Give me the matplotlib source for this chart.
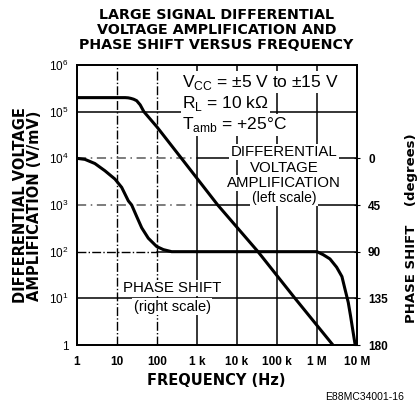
import matplotlib
matplotlib.use("Agg")
import matplotlib.pyplot as plt

plt.rcParams['font.family'] = ['Liberation Sans', 'DejaVu Sans']
plt.rcParams['mathtext.fontset'] = 'custom'
plt.rcParams['mathtext.rm'] = 'Liberation Sans'
plt.rcParams['mathtext.bf'] = 'Liberation Sans:bold'

# gain curve (left scale, V/mV)
gain_freq = [1, 16, 19, 22, 26, 31, 38, 47, 100, 391, 3.3e3, 33.5e3, 282e3, 2.5e6]
gain_vals = [2e5, 2e5, 1.98e5, 1.93e5, 1.85e5, 1.72e5, 1.4e5, 1e5, 4.7e4, 1.05e4,
             1e3, 100, 10, 1]

# phase curve (right scale, degrees)
phase_freq = [1, 1.58, 2.8, 5.0, 8.9, 13.1, 19.2, 23.3, 31, 41.5, 60.6, 98, 144, 232,
              1e6, 1.44e6, 2.11e6, 3.1e6, 4.2e6, 5.0e6, 6.05e6, 6.9e6, 7.8e6, 9e6]
phase_deg = [0, 1, 5, 12, 20, 28, 41, 45, 56, 67, 77, 85, 88, 90,
             90, 93, 97, 105, 114, 126, 139, 152, 165, 180]

x_ticks = [1, 10, 100, 1e3, 1e4, 1e5, 1e6, 1e7]
x_labels = ['1', '10', '100', '1 k', '10 k', '100 k', '1 M', '10 M']
y_ticks = [1, 10, 100, 1e3, 1e4, 1e5, 1e6]
y_labels = ['1', r'$10^1$', r'$10^2$', r'$10^3$', r'$10^4$', r'$10^5$', r'$10^6$']
ph_ticks = [0, 45, 90, 135, 180]

fig = plt.figure(figsize=(4.2, 4.03), dpi=100)
ax = fig.add_axes([0.1833, 0.1439, 0.6667, 0.6948])
ax.set_xscale('log')
ax.set_yscale('log')
ax.set_xlim(1, 1e7)
ax.set_ylim(1, 1e6)

# grid: dash-dot on the left (low freq) part, solid on the right
split = 3 / 7  # 1 kHz in axes fraction
for xv in [10, 100]:
    ax.axvline(xv, color='black', lw=1.0, ls='-.', zorder=1)
for xv in [1e3, 1e4, 1e5, 1e6]:
    ax.axvline(xv, color='black', lw=1.1, zorder=1)
for yv in [1e3, 1e4]:
    ax.axhline(yv, xmax=split, color='0.35', lw=1.1, ls=(0, (6, 3, 1, 3)), zorder=1)
    ax.axhline(yv, xmin=split, color='black', lw=1.1, zorder=1)
ax.axhline(100, xmax=2 / 7, color='black', lw=1.0, ls='-.', zorder=1)
ax.axhline(100, xmin=2 / 7, color='black', lw=1.1, zorder=1)
for yv in [10, 1e5]:
    ax.axhline(yv, color='black', lw=1.1, zorder=1)

ax.plot(gain_freq, gain_vals, color='black', lw=2.2, zorder=3)

ax2 = ax.twinx()
ax2.set_ylim(180, -90)
ax2.plot(phase_freq, phase_deg, color='black', lw=2.2, zorder=3)

ax.set_xticks(x_ticks)
ax.set_xticklabels(x_labels, fontsize=8.5, fontweight='bold')
ax.set_yticks(y_ticks)
ax.set_yticklabels(y_labels, fontsize=8.5)
ax.minorticks_off()
ax.tick_params(axis='x', length=0, pad=8)
ax.tick_params(axis='y', length=0, pad=6)
ax2.set_yticks(ph_ticks)
ax2.set_yticklabels([str(p) for p in ph_ticks], fontsize=8.5, fontweight='bold')
ax2.tick_params(axis='y', length=4, direction='inout', pad=6)

for a in (ax, ax2):
    for s in a.spines.values():
        s.set_linewidth(1.3)

box = dict(facecolor='white', edgecolor='none', pad=1)
ax.text(0.375, 0.939, r'V$_\mathregular{CC}$ = ±5 V to ±15 V', transform=ax.transAxes,
        ha='left', va='center', fontsize=12.5, bbox=box, zorder=4)
ax.text(0.375, 0.864, r'R$_\mathregular{L}$ = 10 kΩ', transform=ax.transAxes,
        ha='left', va='center', fontsize=12.5, bbox=box, zorder=4)
ax.text(0.375, 0.786, r'T$_\mathregular{amb}$ = +25°C', transform=ax.transAxes,
        ha='left', va='center', fontsize=12.5, bbox=box, zorder=4)

for txt, yy in [('DIFFERENTIAL', 0.689), ('VOLTAGE', 0.632), ('AMPLIFICATION', 0.579)]:
    ax.text(0.739, yy, txt, transform=ax.transAxes, ha='center', va='center',
            fontsize=10.8, bbox=box, zorder=4)
ax.text(0.739, 0.525, '(left scale)', transform=ax.transAxes,
        ha='center', va='center', fontsize=10, bbox=box, zorder=4)
ax.text(0.34, 0.204, 'PHASE SHIFT', transform=ax.transAxes,
        ha='center', va='center', fontsize=10.8, bbox=box, zorder=4)
ax.text(0.34, 0.136, '(right scale)', transform=ax.transAxes,
        ha='center', va='center', fontsize=10.5, bbox=box, zorder=4)

bold = dict(family=['DejaVu Sans'], fontweight='bold')
fig.text(0.515, 0.98, 'LARGE SIGNAL DIFFERENTIAL\nVOLTAGE AMPLIFICATION AND\nPHASE SHIFT VERSUS FREQUENCY',
         ha='center', va='top', fontsize=10.3, linespacing=1.1, **bold)
fig.text(0.065, 0.49, 'DIFFERENTIAL VOLTAGE\nAMPLIFICATION (V/mV)', rotation=90,
         ha='center', va='center', fontsize=10.5, linespacing=0.88, **bold)
fig.text(0.98, 0.435, 'PHASE SHIFT    (degrees)', rotation=90,
         ha='center', va='center', fontsize=9.5, **bold)
fig.text(0.515, 0.057, 'FREQUENCY (Hz)', ha='center', va='center',
         fontsize=10.5, **bold)
fig.text(0.774, 0.015, 'E88MC34001-16', ha='left', va='center', fontsize=7.5)

fig.savefig('out.png', dpi=100)
